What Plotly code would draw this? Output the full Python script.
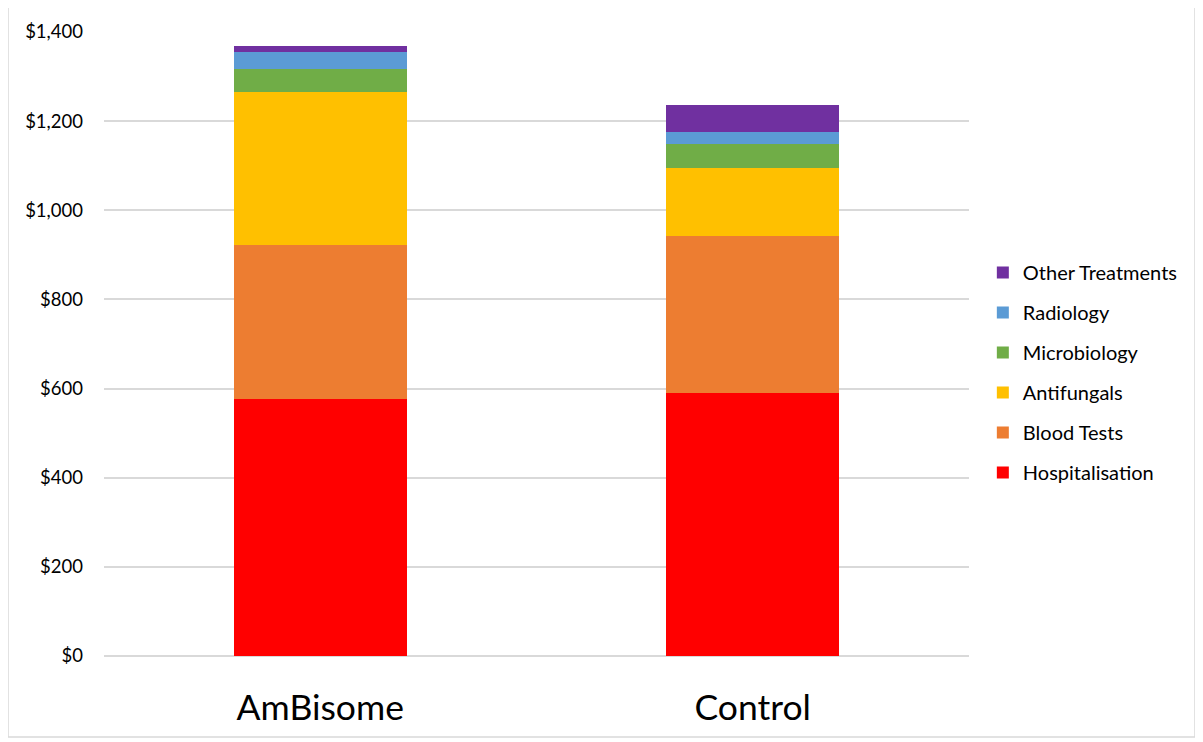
import plotly.graph_objects as go

categories = ["AmBisome", "Control"]
hospitalisation = [577, 591]
blood_tests = [346, 351]
antifungals = [342, 154]
microbiology = [52, 53]
radiology = [39, 27]
other_treatments = [13, 61]

series = [
    ("Hospitalisation", hospitalisation, "#FF0000"),
    ("Blood Tests", blood_tests, "#ED7D31"),
    ("Antifungals", antifungals, "#FFC000"),
    ("Microbiology", microbiology, "#70AD47"),
    ("Radiology", radiology, "#5B9BD5"),
    ("Other Treatments", other_treatments, "#7030A0"),
]

y_ticks = [0, 200, 400, 600, 800, 1000, 1200, 1400]
y_tick_labels = ["$0", "$200", "$400", "$600", "$800", "$1,000", "$1,200", "$1,400"]

fig = go.Figure()
n = len(series)
for i, (name, vals, color) in enumerate(series):
    fig.add_trace(go.Bar(
        x=categories, y=vals, name=name, legendgroup=name,
        legendrank=(n - i) * 10,
        marker=dict(color=color, line=dict(width=0)),
    ))

FONT = "Lato, 'Open Sans', sans-serif"
fig.update_layout(
    width=1195, height=734,
    barmode="stack", bargap=0.6,
    plot_bgcolor="white", paper_bgcolor="white",
    margin=dict(l=96, r=234, t=24, b=86),
    font=dict(family=FONT, color="#000000"),
    showlegend=True,
    legend=dict(
        traceorder="grouped", tracegroupgap=11,
        x=1.016, xanchor="left", y=0.646, yanchor="top",
        font=dict(size=20, color="#000000"),
        itemwidth=30,
    ),
    xaxis=dict(
        tickfont=dict(size=35.5, color="#000000"),
        showgrid=False, showline=False, ticks="",
        ticklabelstandoff=27,
    ),
    yaxis=dict(
        range=[0, 1400], tickvals=y_ticks, ticktext=y_tick_labels,
        tickfont=dict(size=18.5, color="#000000"),
        showgrid=True, gridcolor="#D9D9D9", gridwidth=1.5,
        zeroline=True, zerolinecolor="#D9D9D9", zerolinewidth=1.5,
        showline=False, ticks="", ticklabelstandoff=20,
    ),
    shapes=[dict(
        type="rect", xref="paper", yref="paper",
        x0=-96/865, x1=1091/865, y0=-81/624, y1=1 + 25/624,
        line=dict(color="#D9D9D9", width=1.5), fillcolor="rgba(0,0,0,0)",
        layer="below",
    )],
)

fig.write_html("out.html")
